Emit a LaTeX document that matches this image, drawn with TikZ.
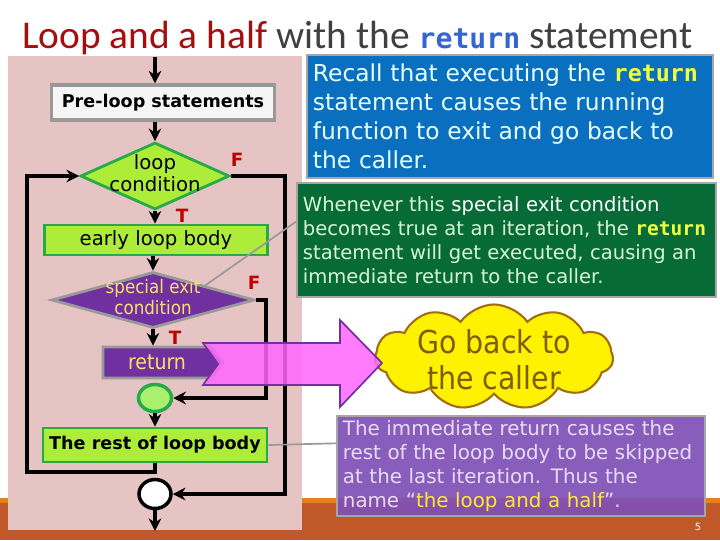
\documentclass[tikz,border=0pt]{standalone}
\usepackage{fontspec}
\setmainfont{DejaVu Sans}
\setmonofont{DejaVu Sans Mono}
\newfontfamily\titlefont{Carlito}
\newfontfamily\condfont{DejaVu Sans Condensed}
\usetikzlibrary{arrows.meta, positioning, shapes.geometric, shapes.symbols}

\definecolor{titlered}{RGB}{163,14,14}
\definecolor{titlegray}{RGB}{64,64,64}
\definecolor{titleblue}{RGB}{52,102,210}
\definecolor{panelpink}{RGB}{231,196,196}
\definecolor{flowfill}{RGB}{174,236,58}
\definecolor{flowedge}{RGB}{40,170,72}
\definecolor{jointfill}{RGB}{170,240,110}
\definecolor{flowpurple}{RGB}{112,48,160}
\definecolor{flowyellow}{RGB}{248,224,110}
\definecolor{flagred}{RGB}{192,0,0}
\definecolor{arrowpink}{RGB}{255,102,255}
\definecolor{cloudedge}{RGB}{160,110,20}
\definecolor{cloudtext}{RGB}{128,92,0}
\definecolor{noteblue}{RGB}{11,111,191}
\definecolor{bluetext}{RGB}{230,255,255}
\definecolor{notegreen}{RGB}{6,107,54}
\definecolor{greentext}{RGB}{214,245,214}
\definecolor{notepurple}{RGB}{128,80,182}
\definecolor{purpletext}{RGB}{232,220,248}
\definecolor{kwyellow}{RGB}{242,255,60}
\definecolor{hlyellow}{RGB}{255,232,60}
\definecolor{barorange}{RGB}{192,88,42}
\definecolor{stripeorange}{RGB}{229,128,30}

\newcommand{\kw}[1]{{\ttfamily\bfseries #1}}

\begin{document}
\begin{tikzpicture}[x=0.025cm, y=-0.025cm,
    flowbox/.style={draw=flowedge, line width=2pt, fill=flowfill, inner sep=0pt, font=\fontsize{14}{16}\selectfont},
    prebox/.style={draw=gray!80, line width=2.2pt, fill=gray!8, inner sep=0pt, font=\bfseries\fontsize{12.5}{14}\selectfont},
    decision/.style={diamond, draw=#1, line width=2pt, inner sep=0pt},
    joint/.style={ellipse, draw=#1, line width=2.5pt, inner sep=0pt},
    flag/.style={text=flagred, font=\bfseries\fontsize{13}{15}\selectfont},
    arrow/.style={-{Stealth[length=9pt,width=9pt,inset=3pt]}, line width=2.6pt},
    note/.style={draw=gray!70, line width=1.2pt, fill=#1, inner xsep=0.15cm, align=left},
    pointer/.style={draw=gray!80, line width=1.2pt},
]
\useasboundingbox (0,0) rectangle (720,540);

% slide background
\fill[white] (0,0) rectangle (720,540);
\fill[barorange] (0,498) rectangle (720,540);
\fill[stripeorange] (0,498) rectangle (720,503);
\fill[panelpink] (8,56) rectangle (302,530);

% title
\node[anchor=base west, inner sep=0pt, font=\titlefont\fontsize{28}{32}\selectfont] (title) at (22,48)
    {\textcolor{titlered}{Loop and a half} \textcolor{titlegray}{with the} \textcolor{titleblue}{\fontsize{20}{24}\selectfont\kw{return}} \textcolor{titlegray}{statement}};

% flowchart
\coordinate (start) at (155,57);
\node[prebox, minimum width=5.575cm, minimum height=0.875cm] (pre) at (163,102.5) {Pre-loop statements};
\node[decision=flowedge, fill=flowfill, minimum width=3.725cm, minimum height=1.675cm] (cond) at (155,176)
    {\makebox[0pt]{\fontsize{14}{15.6}\selectfont\begin{tabular}{@{}c@{}}loop\\condition\end{tabular}}};
\node[flowbox, minimum width=5.575cm, minimum height=0.75cm] (early) at (156,240) {early loop body};
\node[decision=gray!80, fill=flowpurple, minimum width=5.075cm, minimum height=1.4cm] (special) at (153,300)
    {\makebox[0pt]{\condfont\color{flowyellow}\fontsize{13.2}{14.5}\selectfont\begin{tabular}{@{}c@{}}special exit\\condition\end{tabular}}};
\node[signal, signal to=east, signal pointer angle=105, draw=gray!80, line width=2pt, fill=flowpurple, inner sep=0pt,
    minimum width=3cm, minimum height=0.775cm, text=flowyellow, font=\condfont\fontsize{15}{16}\selectfont] (ret) at (157,362.5) {return};
\node[joint=flowedge, fill=jointfill, minimum width=0.825cm, minimum height=0.675cm] (joint) at (155,398) {};
\node[flowbox, font=\bfseries\fontsize{12.5}{14}\selectfont, minimum width=5.6cm, minimum height=0.85cm] (rest) at (155,445) {The rest of loop body};
\node[joint=black, fill=white, minimum width=0.8cm, minimum height=0.725cm] (endjoint) at (155,494) {};
\coordinate (finish) at (155,531);

\node[flag] (fcond) at (237,160) {F};
\node[flag] (tcond) at (182,216) {T};
\node[flag] (fspecial) at (254,283) {F};
\node[flag] (tspecial) at (175,338) {T};

\coordinate (loopL) at (27,472);
\coordinate (outerR) at (285,494);
\coordinate (innerR) at (266,398);

\draw[arrow] (start) -- (start |- pre.north);
\draw[arrow] (pre.south -| cond.north) -- (cond.north);
\draw[arrow] (cond.south) -- (cond.south |- early.north);
\draw[arrow] (early.south -| special.north) -- (special.north);
\draw[arrow] (special.south) -- (special.south |- ret.north);
\draw[arrow] (joint.south) -- (rest.north);
\draw[arrow] (endjoint.south) -- (finish);
\draw[arrow] (rest.south) |- (loopL) |- (cond.west);
\draw[arrow] (cond.east) -| (outerR) -- (endjoint.east);
\draw[arrow] (special.east) -| (innerR) -- (joint.east);

% notes
\node[note=noteblue, minimum width=10.15cm, minimum height=3.075cm, text width=9.85cm, text=bluetext,
    font=\fontsize{16.6}{20.6}\selectfont] (recall) at (510,116.5)
    {Recall that executing the \textcolor{kwyellow}{\kw{return}}\\
     statement causes the running\\
     function to exit and go back to\\
     the caller.};
\node[note=notegreen, minimum width=10.475cm, minimum height=2.85cm, text width=10.175cm, text=greentext,
    font=\fontsize{13.9}{17}\selectfont] (whenever) at (506.5,240)
    {Whenever this \textcolor{white}{special exit condition}\\
     becomes true at an iteration, the \textcolor{kwyellow}{\kw{return}}\\
     statement will get executed, causing an\\
     immediate return to the caller.};
\node[note=notepurple, fill opacity=0.92, text opacity=1, minimum width=9.2cm, minimum height=2.45cm, text width=8.9cm, text=purpletext,
    font=\fontsize{14.1}{17}\selectfont] (skipped) at (521,466)
    {The immediate return causes the\\
     rest of the loop body to be skipped\\
     at the last iteration. Thus the\\
     name “\textcolor{hlyellow}{the loop and a half}”.};

\coordinate (specialpt) at (203,287);
\draw[pointer] (whenever.175) -- (specialpt);
\draw[pointer] (rest.east) -- (skipped.173);

% go back
\node[cloud, cloud puffs=11, cloud puff arc=110, aspect=2.25, draw=cloudedge, line width=1.5pt, fill=yellow, inner sep=0pt,
    minimum width=5.95cm, minimum height=2.625cm, text=cloudtext,
    font=\condfont\fontsize{22.5}{25.6}\selectfont] (goback) at (494,357)
    {\makebox[0pt]{\raisebox{-0.45em}[0pt][0pt]{\begin{tabular}{@{}c@{}}Go back to\\the caller\end{tabular}}}};
\fill[arrowpink, fill opacity=0.85, draw=flowpurple, line width=1.2pt]
    (203,343) -- (340,343) -- (340,320) -- (382,363) -- (340,407) -- (340,385) -- (203,385) -- (218,364) -- cycle;

\node[text=white, font=\fontsize{7}{8}\selectfont] (pagenum) at (698,527) {5};
\end{tikzpicture}
\end{document}
